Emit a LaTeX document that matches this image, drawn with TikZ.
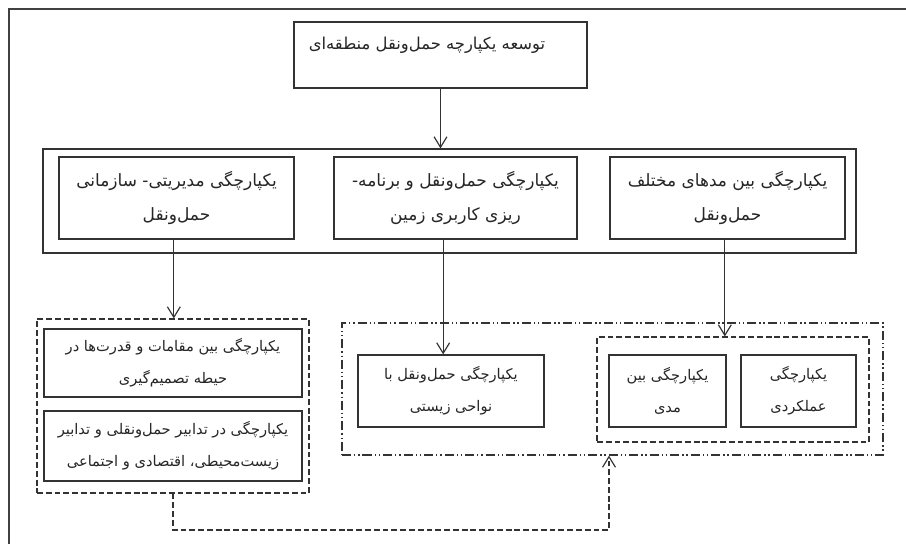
\documentclass[tikz,border=0pt]{standalone}
\usepackage{fontspec}
\newfontfamily\farsifont[Script=Arabic]{DejaVu Sans}
\TeXXeTstate=1
\usetikzlibrary{arrows.meta}
\newcommand\fline[1]{\beginR #1\endR}

\begin{document}
\begin{tikzpicture}
[x=0.03cm,y=-0.03cm,
  boxDecorate/.style={shape=rectangle,draw=black!80,line width=1pt,inner sep=0pt,align=center,
    text=black!85,font=\farsifont\fontsize{14.5}{29}\selectfont},
  smallDecorate/.style={boxDecorate,font=\farsifont\fontsize{12.5}{27}\selectfont},
  dashDecorate/.style={draw=black!80,line width=1pt,dash pattern=on 5pt off 2.5pt},
  dotDecorate/.style={draw=black!80,line width=1pt,dash pattern=on 8pt off 2.5pt on 1pt off 2.5pt on 1pt off 2.5pt},
  arrowDecorate/.style={draw=black!80,line width=1pt,-{Straight Barb[length=9pt,width=11pt]}}]
\useasboundingbox[fill=white] (0,0) rectangle (906,544);
%% frame
\draw[black!75,line width=1.4pt] (9,544) -- (9,9) -- (906,9);
%% top box
\node (tose) at (440.5,55) [boxDecorate,minimum width=8.79cm,minimum height=1.98cm] {};
\node (toseText) at (427,45) [font=\farsifont\fontsize{14}{29}\selectfont,text=black!85] {\fline{توسعه یکپارچه حمل‌ونقل منطقه‌ای}};
%% second row
\node (row) at (449.5,201) [boxDecorate,minimum width=24.39cm,minimum height=3.12cm] {};
\foreach \nodename/\x/\w/\txt in {
  modiriat/176.5/7.05/{\fline{یکپارچگی مدیریتی- سازمانی}\\\fline{حمل‌ونقل}},
  barname/455.5/7.29/{\fline{یکپارچگی حمل‌ونقل و برنامه-}\\\fline{ریزی کاربری زمین}},
  modha/727.5/7.05/{\fline{یکپارچگی بین مدهای مختلف}\\\fline{حمل‌ونقل}}} {
  \node (\nodename) at (\x,198) [boxDecorate,minimum width=\w cm,minimum height=2.46cm] {\txt};
}
%% groups
\node (groupLeft) at (173,406) [dashDecorate,minimum width=8.16cm,minimum height=5.22cm] {};
\node (groupRight) at (612.5,389) [dotDecorate,minimum width=16.23cm,minimum height=3.96cm] {};
\node (groupMode) at (733,389.5) [dashDecorate,minimum width=8.16cm,minimum height=3.15cm] {};
%% third row
\node (maqamat) at (173,363) [smallDecorate,minimum width=7.74cm,minimum height=2.04cm]
  {\fline{یکپارچگی بین مقامات و قدرت‌ها در}\\\fline{حیطه تصمیم‌گیری}};
\node (tadabir) at (173,446) [smallDecorate,minimum width=7.74cm,minimum height=2.1cm]
  {\fline{یکپارچگی در تدابیر حمل‌ونقلی و تدابیر}\\\fline{زیست‌محیطی، اقتصادی و اجتماعی}};
\node (navahi) at (451,391) [smallDecorate,minimum width=5.58cm,minimum height=2.16cm]
  {\fline{یکپارچگی حمل‌ونقل با}\\\fline{نواحی زیستی}};
\node (beinmodi) at (667.5,391) [smallDecorate,minimum width=3.51cm,minimum height=2.16cm]
  {\fline{یکپارچگی بین}\\\fline{مدی}};
\node (amalkardi) at (798.5,391) [smallDecorate,minimum width=3.45cm,minimum height=2.16cm]
  {\fline{یکپارچگی}\\\fline{عملکردی}};
%% arrows
\draw[arrowDecorate] (tose.south) -- (tose.south |- row.north);
\draw[arrowDecorate] ([xshift=-0.08cm]modiriat.south) -- ([xshift=-0.08cm]modiriat.south |- groupLeft.north);
\draw[arrowDecorate] ([xshift=-0.37cm]barname.south) -- ([xshift=-0.37cm]barname.south |- navahi.north);
\draw[arrowDecorate] ([xshift=-0.08cm]modha.south) -- ([xshift=-0.08cm]modha.south |- groupMode.north);
\coordinate (feedback) at (609,530);
\draw[arrowDecorate,dashDecorate] (groupLeft.south) |- (feedback) -- (feedback |- groupRight.south);
\end{tikzpicture}
\end{document}
